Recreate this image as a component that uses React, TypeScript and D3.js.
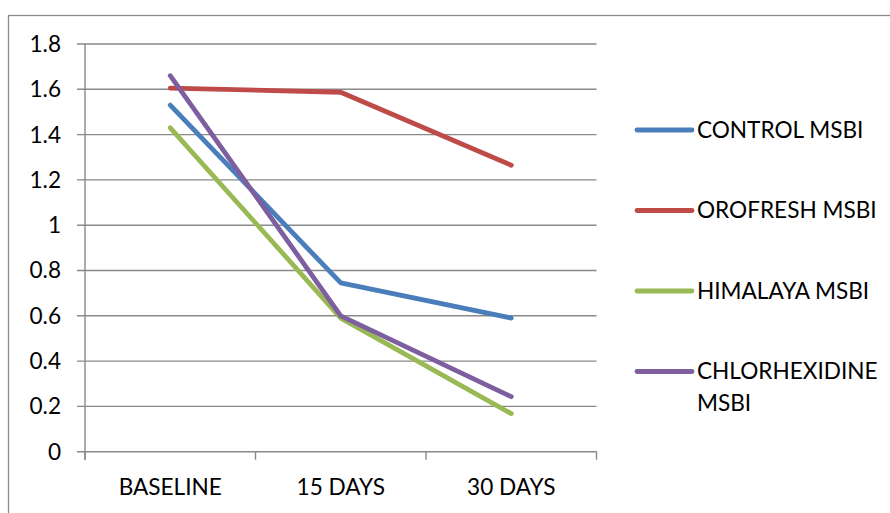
import React from "react";
import * as d3 from "d3";

const categories = ["BASELINE", "15 DAYS", "30 DAYS"];
const seriesNames = ["CONTROL MSBI", "OROFRESH MSBI", "HIMALAYA MSBI", "CHLORHEXIDINE MSBI"];
const controlValues = [1.53, 0.745, 0.59];
const orofreshValues = [1.605, 1.587, 1.265];
const himalayaValues = [1.43, 0.59, 0.168];
const chlorhexidineValues = [1.66, 0.6, 0.243];
const yTicks = [0, 0.2, 0.4, 0.6, 0.8, 1, 1.2, 1.4, 1.6, 1.8];
const colors = ["#4A7EBB", "#BE4B48", "#98B954", "#7D5FA0"];

const W = 890;
const H = 513;
const FONT = "Lato, 'Liberation Sans', sans-serif";
const FS = 22.6;

export default function App() {
  const series = [controlValues, orofreshValues, himalayaValues, chlorhexidineValues];
  const left = 85;
  const right = 596.5;
  const top = 44;
  const bottom = 451.7;

  const x = d3.scaleBand<string>().domain(categories).range([left, right]).paddingInner(0).paddingOuter(0);
  const y = d3.scaleLinear().domain([0, 1.8]).range([bottom, top]);
  const line = d3
    .line<number>()
    .x((_, i) => (x(categories[i]) as number) + x.bandwidth() / 2)
    .y((d) => y(d));

  const grid = "#898989";
  const tickXs = [...categories.map((c) => x(c) as number), right];

  const legendX0 = 637;
  const legendX1 = 692;
  const legendY = [130, 210.5, 291, 371.5];

  return (
    <svg
      width={W}
      height={H}
      style={{ position: "fixed", left: 0, top: 0, background: "#fff" }}
    >
      <rect x={0} y={0} width={W} height={H} fill="#fff" />
      {/* chart area border */}
      <rect x={8.5} y={15.5} width={W + 20} height={H + 20} fill="none" stroke="#8a8a8a" strokeWidth={1.3} />

      {/* horizontal gridlines with left tick stubs */}
      {yTicks.map((t) => (
        <line key={t} x1={77} x2={right} y1={y(t)} y2={y(t)} stroke={grid} strokeWidth={1.4} />
      ))}
      {/* vertical axis */}
      <line x1={left} x2={left} y1={top} y2={bottom + 8} stroke={grid} strokeWidth={1.4} />
      {/* category ticks */}
      {tickXs.map((tx, i) => (
        <line key={i} x1={tx} x2={tx} y1={bottom} y2={bottom + 8} stroke={grid} strokeWidth={1.4} />
      ))}

      {/* y tick labels */}
      {yTicks.map((t) => (
        <text
          key={t}
          x={61}
          y={y(t)}
          dy="0.35em"
          textAnchor="end"
          fontFamily={FONT}
          fontSize={FS}
          fill="#000"
        >
          {d3.format("~g")(t)}
        </text>
      ))}

      {/* category labels */}
      {categories.map((c) => (
        <text
          key={c}
          x={(x(c) as number) + x.bandwidth() / 2}
          y={495}
          textAnchor="middle"
          fontFamily={FONT}
          fontSize={FS}
          fill="#000"
        >
          {c}
        </text>
      ))}

      {/* series lines */}
      {series.map((vals, i) => (
        <path
          key={seriesNames[i]}
          d={line(vals) || ""}
          fill="none"
          stroke={colors[i]}
          strokeWidth={4.8}
          strokeLinecap="round"
          strokeLinejoin="round"
        />
      ))}

      {/* legend */}
      {seriesNames.map((name, i) => {
        const ly = legendY[i];
        const parts = name === "CHLORHEXIDINE MSBI" ? ["CHLORHEXIDINE", "MSBI"] : [name];
        return (
          <g key={name}>
            <line x1={legendX0} x2={legendX1} y1={ly} y2={ly} stroke={colors[i]} strokeWidth={4.8} strokeLinecap="round" />
            {parts.map((p, j) => (
              <text
                key={p}
                x={697}
                y={ly + 7.5 + j * 31.5}
                fontFamily={FONT}
                fontSize={FS}
                fill="#000"
              >
                {p}
              </text>
            ))}
          </g>
        );
      })}
    </svg>
  );
}
